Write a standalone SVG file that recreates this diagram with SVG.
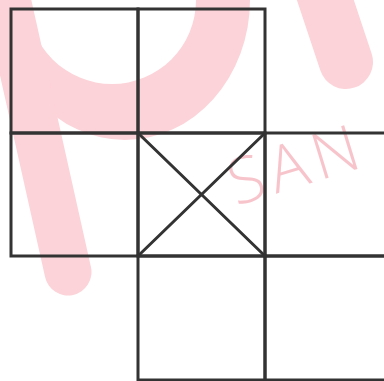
<svg xmlns="http://www.w3.org/2000/svg" width="384" height="381" viewBox="0 0 384 381">
<style>
.cell{fill:none;stroke:#333;stroke-width:3;stroke-linejoin:miter}
.diag{stroke:#333;stroke-width:3;stroke-linecap:round}
.wm{fill:#fcd3d8}
.wmline{stroke:#fcd3d8;fill:none;stroke-linecap:round}
.wmtext{fill:#f8c4cb;font-family:"Open Sans","Liberation Sans",sans-serif;font-weight:300;font-size:64px;letter-spacing:7px}
</style>
<rect width="384" height="381" fill="#fff"/>
<g id="watermark">
<path class="wm" fill-rule="evenodd" d="M0,0 A125,140 0 0 0 250,0 Z M28,0 A84,84 0 0 0 196,0 A84,84 0 0 0 28,0 Z"/>
<line class="wmline" x1="5" y1="-10" x2="68" y2="272" stroke-width="47"/>
<line class="wmline" x1="322" y1="-10" x2="346" y2="62" stroke-width="54"/>
<text class="wmtext" transform="translate(236,206) rotate(-17)">SAN</text>
</g>
<g id="cell-r1c1"><rect class="cell" x="11" y="9" width="127" height="124"/></g>
<g id="cell-r1c2"><rect class="cell" x="138" y="9" width="127" height="124"/></g>
<g id="cell-r2c1"><rect class="cell" x="11" y="133" width="127" height="123"/></g>
<g id="cell-r2c2"><rect class="cell" x="138" y="133" width="127" height="123"/>
<line class="diag" x1="138" y1="133" x2="265" y2="256"/>
<line class="diag" x1="265" y1="133" x2="138" y2="256"/></g>
<g id="cell-r2c3"><rect class="cell" x="265" y="133" width="130" height="123"/></g>
<g id="cell-r3c2"><rect class="cell" x="138" y="256" width="127" height="124"/></g>
<g id="cell-r3c3"><rect class="cell" x="265" y="256" width="130" height="124"/></g>
</svg>
